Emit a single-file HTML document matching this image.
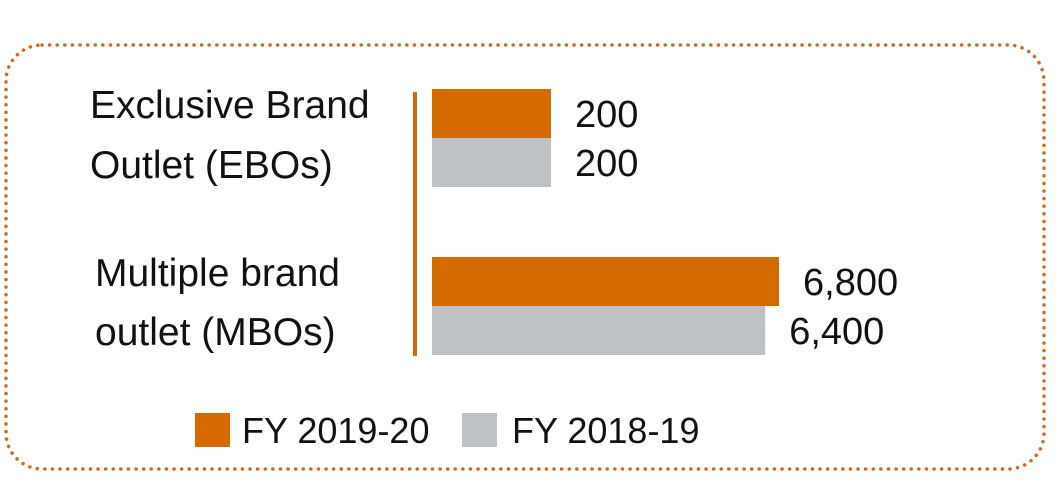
<!DOCTYPE html>
<html><head><meta charset="utf-8"><style>
html,body{margin:0;padding:0;background:#fff;}
svg{display:block;font-family:"Liberation Sans",sans-serif;}
</style></head><body>
<svg width="1062" height="500" viewBox="0 0 1062 500">
<rect x="6" y="45" width="1038" height="424" rx="36" ry="36" fill="none" stroke="#D2691E" stroke-width="3.5" stroke-dasharray="0.1 7.5" stroke-linecap="round"/>
<line x1="415" y1="92" x2="415" y2="356" stroke="#D46A0B" stroke-width="4"/>
<g id="bars"></g>
<g font-size="39" fill="#111">
<text x="90" y="118">Exclusive Brand</text>
<text x="90" y="178">Outlet (EBOs)</text>
<text x="95" y="286">Multiple brand</text>
<text x="95" y="345">outlet (MBOs)</text>
</g>
<g font-size="36" fill="#111">
<rect x="195" y="413" width="35" height="34" fill="#D46A00"/>
<text x="242" y="443">FY 2019-20</text>
<rect x="462" y="413" width="35" height="34" fill="#BFC2C4"/>
<text x="512" y="443">FY 2018-19</text>
</g>
</svg>
<script>
const categories = ["EBOs", "MBOs"];
const fy2020 = [200, 6800];
const fy2019 = [200, 6400];
const valueLabels2020 = ["200", "6,800"];
const valueLabels2019 = ["200", "6,400"];

const x0 = 432, kx = 0.03455, d0 = -3244;
function xw(v){ return (v - d0) * kx; }
const groupTop = [89, 257], barH = 49;
const g = document.getElementById('bars');
const NS = 'http://www.w3.org/2000/svg';
function bar(v, y, color, name, label){
  const r = document.createElementNS(NS,'rect');
  r.setAttribute('x', x0); r.setAttribute('y', y);
  r.setAttribute('width', xw(v)); r.setAttribute('height', barH);
  r.setAttribute('fill', color);
  
  
  g.appendChild(r);
  const t = document.createElementNS(NS,'text');
  t.setAttribute('x', x0 + xw(v) + 24); t.setAttribute('y', y + 38);
  t.setAttribute('font-size', '38'); t.setAttribute('fill', '#111');
  t.textContent = label;
  
  
  g.appendChild(t);
}
categories.forEach((c,i)=>{
  bar(fy2020[i], groupTop[i], '#D46A00', 'bar-' + c.toLowerCase() + '-fy2019-20', valueLabels2020[i]);
  bar(fy2019[i], groupTop[i] + barH, '#BFC2C4', 'bar-' + c.toLowerCase() + '-fy2018-19', valueLabels2019[i]);
});
</script>
</body></html>
